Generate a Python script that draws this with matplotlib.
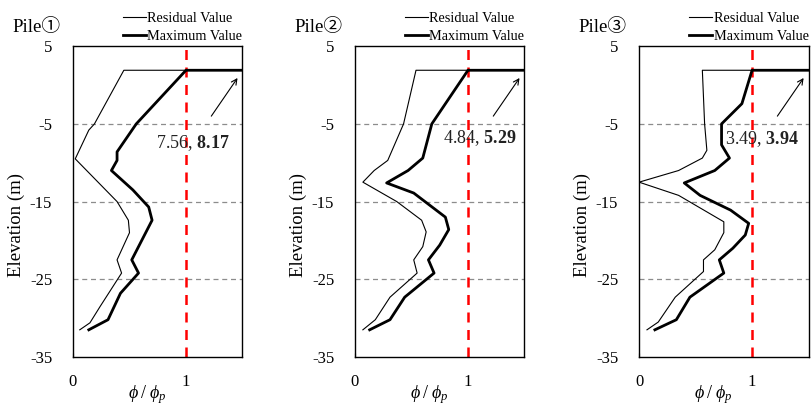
import matplotlib
matplotlib.use("Agg")
import matplotlib.pyplot as plt

plt.rcParams['font.family'] = ['Liberation Serif', 'DejaVu Serif', 'Noto Sans CJK SC']
plt.rcParams['mathtext.fontset'] = 'custom'
plt.rcParams['mathtext.rm'] = 'Liberation Serif'
plt.rcParams['mathtext.it'] = 'Liberation Serif:italic'
plt.rcParams['mathtext.bf'] = 'Liberation Serif:bold'
plt.rcParams['axes.unicode_minus'] = False

titles = ["Pile\u2460", "Pile\u2461", "Pile\u2462"]

# Pile 1
res1_x = [1.5, 0.45, 0.19, 0.14, 0.02, 0.39, 0.49, 0.50, 0.39, 0.43, 0.24, 0.15, 0.06]
res1_y = [1.9, 1.9, -5.0, -5.8, -9.5, -15.0, -17.4, -19.0, -22.5, -24.2, -28.5, -30.6, -31.5]
max1_x = [1.5, 1.0, 0.56, 0.39, 0.39, 0.34, 0.53, 0.67, 0.70, 0.52, 0.58, 0.42, 0.31, 0.14]
max1_y = [1.9, 1.9, -5.0, -8.6, -9.7, -11.0, -13.5, -15.7, -17.4, -22.5, -24.2, -26.8, -30.2, -31.5]

# Pile 2
res2_x = [1.5, 0.54, 0.43, 0.29, 0.17, 0.07, 0.37, 0.59, 0.63, 0.60, 0.52, 0.55, 0.31, 0.18, 0.07]
res2_y = [1.9, 1.9, -5.0, -9.7, -11.0, -12.5, -15.0, -17.4, -18.9, -20.8, -22.5, -24.2, -27.3, -30.2, -31.5]
max2_x = [1.5, 1.0, 0.68, 0.60, 0.47, 0.28, 0.52, 0.80, 0.83, 0.75, 0.65, 0.70, 0.44, 0.31, 0.13]
max2_y = [1.9, 1.9, -5.0, -9.4, -11.0, -12.6, -13.9, -17.0, -18.6, -20.6, -22.5, -24.2, -27.3, -30.2, -31.5]

# Pile 3
res3_x = [1.5, 0.56, 0.58, 0.60, 0.56, 0.35, 0.0, 0.35, 0.75, 0.75, 0.67, 0.57, 0.57, 0.32, 0.17, 0.07]
res3_y = [1.9, 1.9, -5.0, -8.4, -9.4, -11.0, -12.5, -14.2, -17.6, -19.0, -21.2, -22.5, -24.0, -27.3, -30.5, -31.5]
max3_x = [1.5, 1.0, 0.91, 0.73, 0.73, 0.80, 0.67, 0.40, 0.54, 0.81, 0.97, 0.94, 0.83, 0.71, 0.75, 0.45, 0.33, 0.14]
max3_y = [1.9, 1.9, -2.4, -5.0, -7.7, -9.4, -11.0, -12.6, -14.2, -16.1, -17.8, -19.3, -21.0, -22.5, -24.2, -27.3, -30.2, -31.5]

residual_vals = ["7.56", "4.84", "3.49"]
maximum_vals = ["8.17", "5.29", "3.94"]

res_x = [res1_x, res2_x, res3_x]
res_y = [res1_y, res2_y, res3_y]
max_x = [max1_x, max2_x, max3_x]
max_y = [max1_y, max2_y, max3_y]

yticks = [5, -5, -15, -25, -35]
xticks = [0, 1]

fig = plt.figure(figsize=(8.11, 4.05), dpi=100)
lefts = [0.090, 0.4377, 0.788]
W, H, B = 0.209, 0.7675, 0.1185

text_pos = [(1.06, -7.5), (1.10, -6.8), (1.09, -6.9)]
for i in range(3):
    ax = fig.add_axes([lefts[i], B, W, H])
    ax.set_xlim(0, 1.5)
    ax.set_ylim(-35, 5)
    for g in [-5, -15, -25]:
        ax.axhline(g, color='#8c8c8c', lw=0.9, ls=(0, (4, 3)), zorder=1)
    ax.axvline(1.0, color='#ff0000', lw=1.8, ls=(0, (4, 3)), zorder=2)
    l1, = ax.plot(res_x[i], res_y[i], color='black', lw=0.8, zorder=3, label='Residual Value')
    l2, = ax.plot(max_x[i], max_y[i], color='black', lw=2.0, zorder=3, label='Maximum Value')
    ax.set_yticks(yticks)
    ax.set_xticks(xticks)
    ax.set_xticklabels(['0', '1'])
    ax.tick_params(axis='y', length=0, pad=15, labelsize=12)
    ax.tick_params(axis='x', direction='in', length=3, pad=12, labelsize=12)
    for s in ax.spines.values():
        s.set_linewidth(1.0)
    ax.set_ylabel('Elevation (m)', fontsize=13.5)
    ax.yaxis.set_label_coords(-0.285, 0.425)
    ax.set_xlabel(r'$\phi\;/\;\phi_p$', fontsize=13)
    ax.xaxis.set_label_coords(0.44, -0.085)
    ax.text(-0.355, 1.06, titles[i], transform=ax.transAxes, fontsize=13.5,
            ha='left', va='center')
    ax.legend(handles=[l1, l2], loc='lower right', bbox_to_anchor=(1.0, 1.01),
              frameon=False, fontsize=10.3, handlelength=1.6, handletextpad=0.1,
              labelspacing=0.35, borderpad=0, borderaxespad=0)
    ax.annotate('', xy=(1.47, 1.2), xytext=(1.21, -4.3),
                arrowprops=dict(arrowstyle='->', color='black', lw=0.8))
    tx, ty = text_pos[i]
    ax.text(tx, ty, residual_vals[i] + r', $\mathbf{' + maximum_vals[i] + '}$',
            fontsize=13, ha='center', va='center', color='#222222', zorder=4)

fig.savefig('out.png', dpi=100)
